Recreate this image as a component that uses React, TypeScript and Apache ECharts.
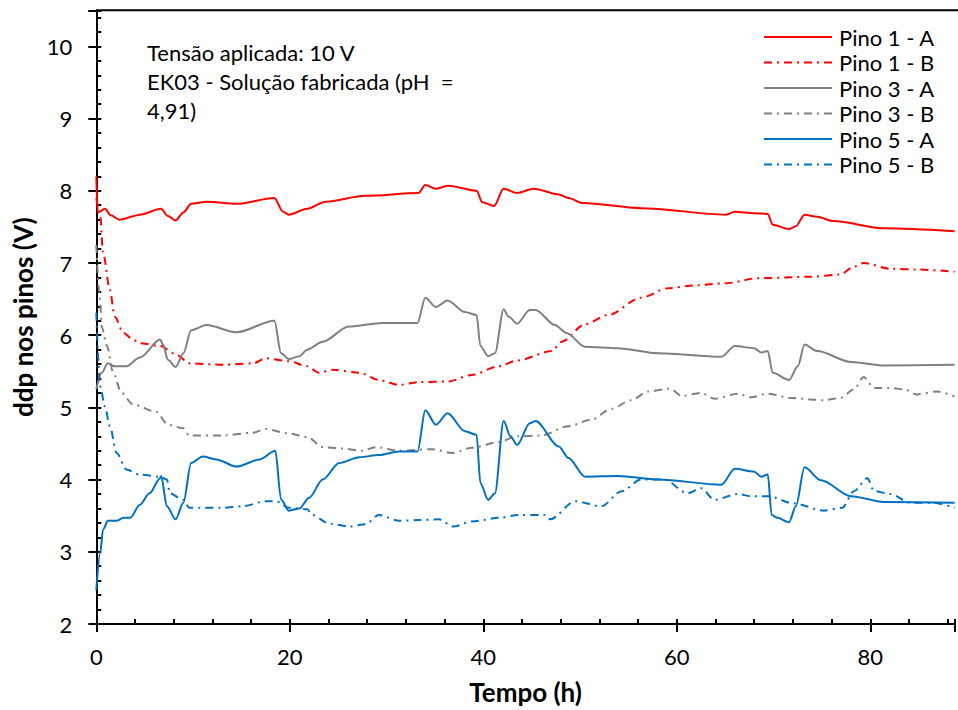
import React, { useEffect, useRef } from "react";
import * as echarts from "echarts";

const seriesNames = ["Pino 1 - A", "Pino 1 - B", "Pino 3 - A", "Pino 3 - B", "Pino 5 - A", "Pino 5 - B"];
const xTicks = [0, 20, 40, 60, 80];
const yTicks = [2, 3, 4, 5, 6, 7, 8, 9, 10];
const noteLines = ["Tensão aplicada: 10 V", "EK03 - Solução fabricada (pH  =", "4,91)"];

const pino1A: [number, number][] = [
  [0, 8.2], [0.15, 7.7], [0.9, 7.75], [1.5, 7.66], [2.4, 7.6], [4.5, 7.67], [6.7, 7.75], [7.4, 7.65], [8.2, 7.59],
  [9.0, 7.7], [9.8, 7.82], [11.4, 7.85], [14.5, 7.82], [18.4, 7.9], [19.3, 7.71], [19.9, 7.67], [21.8, 7.75],
  [23.7, 7.85], [27.8, 7.93], [33.3, 7.97], [34, 8.08], [35.1, 8.03], [36.4, 8.07], [39.3, 8.0], [39.9, 7.84],
  [41.1, 7.79], [42.1, 8.03], [43.5, 7.97], [45.2, 8.03], [47.8, 7.95], [48.8, 7.9], [50.3, 7.83], [56.3, 7.76],
  [65.1, 7.67], [66, 7.71], [68, 7.69], [69.4, 7.68], [69.9, 7.53], [71.6, 7.47], [72.3, 7.51], [73.2, 7.67],
  [74.5, 7.64], [76.2, 7.58], [81.4, 7.48], [88.7, 7.44],
];

const pino1B: [number, number][] = [
  [0, 7.9], [0.4, 7.65], [0.7, 7.14], [1.4, 6.63], [1.9, 6.26], [2.8, 6.03], [3.8, 5.94], [4.5, 5.89], [6.6, 5.85],
  [8.3, 5.73], [9.6, 5.61], [13.1, 5.59], [16.2, 5.61], [17.5, 5.68], [19.9, 5.64], [21.8, 5.57], [23, 5.48],
  [24.4, 5.52], [27.2, 5.48], [29.2, 5.38], [31.3, 5.31], [33.3, 5.35], [36.4, 5.36], [38.8, 5.45], [41.6, 5.57],
  [43.5, 5.65], [47.1, 5.78], [48.1, 5.91], [50.5, 6.15], [52.9, 6.28], [56.3, 6.52], [59.1, 6.65], [61.8, 6.69],
  [65.1, 6.72], [68.4, 6.79], [73.8, 6.81], [76.9, 6.84], [78.3, 6.95], [79.3, 7.0], [82.1, 6.92], [84.8, 6.91],
  [88.7, 6.88],
];

const pino3A: [number, number][] = [
  [0, 5.25], [0.55, 5.48], [1.2, 5.61], [1.9, 5.57], [3.1, 5.57], [4.5, 5.69], [6.6, 5.94], [6.9, 5.87], [7.4, 5.66],
  [8.2, 5.56], [9.0, 5.75], [9.8, 6.07], [11.4, 6.14], [14.5, 6.04], [18.4, 6.2], [19.1, 5.75], [19.9, 5.67],
  [21, 5.71], [21.8, 5.8], [23.4, 5.91], [26.1, 6.12], [29.6, 6.17], [33.2, 6.17], [34, 6.52], [35.1, 6.39],
  [36.3, 6.48], [38.1, 6.32], [39.3, 6.28], [39.7, 5.85], [40.5, 5.71], [41.2, 5.75], [42.1, 6.36], [42.6, 6.26],
  [43.5, 6.16], [44.8, 6.35], [45.4, 6.35], [47.4, 6.14], [48.6, 6.03], [50.5, 5.84], [53.9, 5.82], [58.1, 5.75],
  [64.6, 5.7], [66, 5.85], [68, 5.82], [68.7, 5.76], [69.4, 5.78], [69.9, 5.48], [71.6, 5.38], [72.5, 5.57],
  [73.2, 5.87], [74.5, 5.78], [78, 5.63], [81.4, 5.58], [88.7, 5.59],
];

const pino3B: [number, number][] = [
  [0, 7.25], [0.3, 6.6], [0.6, 6.1], [1.1, 5.85], [1.75, 5.48], [2.6, 5.2], [3.8, 5.04], [6.2, 4.94], [7.4, 4.76],
  [9.0, 4.71], [9.6, 4.61], [13.1, 4.61], [16.2, 4.65], [17.5, 4.7], [19.9, 4.64], [21.8, 4.59], [23.4, 4.45],
  [25.4, 4.43], [27.5, 4.4], [28.9, 4.45], [31.3, 4.4], [34.7, 4.42], [36.8, 4.37], [38.8, 4.44], [41.6, 4.52],
  [43.5, 4.6], [46, 4.61], [48.8, 4.74], [51.2, 4.83], [53.2, 4.98], [55.3, 5.1], [57, 5.22], [59.3, 5.26],
  [60.5, 5.16], [62.5, 5.2], [63.9, 5.12], [66.3, 5.19], [67.7, 5.14], [69.4, 5.19], [71.8, 5.13], [75.2, 5.1],
  [76.9, 5.13], [78.3, 5.25], [79.3, 5.42], [80.4, 5.27], [82.1, 5.27], [83.5, 5.25], [84.8, 5.18], [86.9, 5.22],
  [88.7, 5.15],
];

const pino5A: [number, number][] = [
  [0, 2.47], [0.4, 2.98], [0.7, 3.31], [1.2, 3.43], [2.1, 3.43], [2.8, 3.47], [3.5, 3.47], [4.5, 3.65], [5.5, 3.81],
  [6.6, 4.02], [6.7, 4.05], [7.3, 3.63], [8.2, 3.45], [9.0, 3.68], [9.8, 4.23], [11, 4.32], [12.4, 4.28],
  [14.5, 4.18], [16.9, 4.28], [18.5, 4.4], [19.1, 3.72], [19.9, 3.57], [21, 3.6], [22, 3.75], [23.4, 4.0],
  [25.1, 4.23], [27.2, 4.31], [29.2, 4.34], [31.3, 4.39], [33.2, 4.39], [34, 4.96], [35.1, 4.76], [36.3, 4.92],
  [38.1, 4.67], [39.3, 4.62], [39.7, 3.95], [40.5, 3.72], [41.2, 3.81], [42.1, 4.81], [42.8, 4.6], [43.5, 4.48],
  [44.8, 4.78], [45.4, 4.81], [47.8, 4.46], [48.8, 4.3], [50.5, 4.04], [53.9, 4.05], [58.1, 4.0], [64.6, 3.93],
  [66, 4.15], [68, 4.11], [68.7, 4.04], [69.4, 4.07], [69.8, 3.51], [70.4, 3.47], [71.6, 3.41], [72.3, 3.63],
  [73.2, 4.17], [74.9, 3.99], [78, 3.77], [81.4, 3.69], [88.7, 3.68],
];

const pino5B: [number, number][] = [
  [0, 6.31], [0.4, 5.29], [0.9, 5.01], [1.4, 4.74], [2.1, 4.37], [3.1, 4.14], [4.5, 4.07], [6.6, 4.04], [7.3, 4.0],
  [7.6, 3.81], [9.0, 3.72], [9.6, 3.61], [13.1, 3.61], [15.1, 3.63], [17.5, 3.7], [18.6, 3.7], [19.9, 3.61],
  [21.8, 3.59], [22.3, 3.51], [24.1, 3.39], [26.1, 3.35], [27.8, 3.38], [29.2, 3.51], [31.3, 3.43], [33.3, 3.44],
  [35.4, 3.45], [36.9, 3.35], [38.8, 3.42], [41.6, 3.47], [43.6, 3.51], [46.4, 3.51], [46.9, 3.45], [49.5, 3.7],
  [52.2, 3.63], [54.3, 3.84], [56.3, 4.0], [58.7, 4.0], [61.1, 3.81], [62.5, 3.88], [63.9, 3.72], [66.3, 3.8],
  [67.7, 3.77], [69.4, 3.77], [72.1, 3.67], [75.2, 3.57], [77.1, 3.61], [78.3, 3.84], [79.7, 4.02], [80.4, 3.84],
  [82.1, 3.8], [84.1, 3.68], [86.5, 3.68], [88.7, 3.61],
];

const seriesData = [pino1A, pino1B, pino3A, pino3B, pino5A, pino5B];
const seriesColors = ["#FF0000", "#FF0000", "#808080", "#808080", "#0070C0", "#0070C0"];
const dashDot = [8, 5, 2, 5];

const FONT = "Lato, 'Open Sans', sans-serif";

export default function App() {
  const ref = useRef<HTMLDivElement>(null);
  useEffect(() => {
    if (!ref.current) return;
    const chart = echarts.init(ref.current, undefined, { renderer: "svg" });
    const xMin = 0, xMax = 88.75, yMin = 2, yMax = 10.5;
    chart.setOption({
      animation: false,
      backgroundColor: "#ffffff",
      textStyle: { fontFamily: FONT },
      grid: { left: 96.3, right: 0, top: 10.3, bottom: 85.7, containLabel: false },
      legend: {
        orient: "vertical",
        left: 763,
        top: 26,
        padding: 0,
        itemWidth: 68,
        itemHeight: 14,
        itemGap: 3.5,
        data: seriesNames,
        itemStyle: { opacity: 0, borderWidth: 0 },
        textStyle: { fontFamily: FONT, fontSize: 22, color: "#000", padding: [0, 0, 0, 2] },
      },
      xAxis: [
        {
          type: "value",
          min: xMin,
          max: xMax,
          interval: 20,
          position: "bottom",
          name: "Tempo (h)",
          nameLocation: "middle",
          nameGap: 55,
          nameTextStyle: { fontFamily: FONT, fontSize: 26, fontWeight: "bold", color: "#000" },
          axisLine: { show: true, onZero: false, lineStyle: { color: "#000", width: 2 } },
          axisTick: { show: true, inside: false, length: 8, lineStyle: { color: "#000", width: 2 } },
          axisLabel: {
            margin: 21,
            fontFamily: FONT,
            fontSize: 22,
            color: "#000",
            formatter: (v: number) => (xTicks.includes(v) ? String(v) : ""),
          },
          splitLine: { show: false },
        },
        {
          type: "value",
          min: xMin,
          max: xMax,
          interval: 20,
          position: "bottom",
          axisLine: { show: false, onZero: false },
          axisTick: { show: true, inside: true, length: 5, lineStyle: { color: "#000", width: 2 } },
          minorTick: { show: true, splitNumber: 5, length: 5, lineStyle: { color: "#000", width: 2 } },
          axisLabel: { show: false },
          splitLine: { show: false },
        },
      ],
      yAxis: [
        {
          type: "value",
          min: yMin,
          max: yMax,
          interval: 1,
          position: "left",
          name: "ddp nos pinos (V)",
          nameLocation: "middle",
          nameGap: 60,
          nameTextStyle: { fontFamily: FONT, fontSize: 26, fontWeight: "bold", color: "#000" },
          axisLine: { show: true, onZero: false, lineStyle: { color: "#000", width: 2 } },
          axisTick: { show: true, inside: false, length: 8, lineStyle: { color: "#000", width: 2 } },
          axisLabel: {
            margin: 24,
            fontFamily: FONT,
            fontSize: 22,
            color: "#000",
            formatter: (v: number) => (yTicks.includes(v) ? String(v) : ""),
          },
          splitLine: { show: false },
        },
        {
          type: "value",
          min: yMin,
          max: yMax,
          interval: 1,
          position: "left",
          axisLine: { show: false, onZero: false },
          axisTick: { show: true, inside: true, length: 5, lineStyle: { color: "#000", width: 2 } },
          minorTick: { show: true, splitNumber: 5, length: 5, lineStyle: { color: "#000", width: 2 } },
          axisLabel: { show: false },
          splitLine: { show: false },
        },
      ],
      graphic: [
        {
          type: "line",
          shape: { x1: 96.3, y1: 10.3, x2: 958, y2: 10.3 },
          style: { stroke: "#000", lineWidth: 2 },
          silent: true,
        },
        {
          type: "text",
          left: 147,
          top: 38,
          style: {
            text: noteLines.join("\n"),
            fontFamily: FONT,
            fontSize: 22,
            lineHeight: 29,
            fill: "#000",
          },
        },
      ],
      series: seriesNames.map((name, i) => ({
        name,
        type: "line",
        xAxisIndex: 0,
        yAxisIndex: 0,
        data: seriesData[i],
        symbol: "none",
        showSymbol: false,
        smooth: 0.3,
        smoothMonotone: "x",
        clip: true,
        lineStyle: {
          color: seriesColors[i],
          width: 2,
          type: i % 2 === 1 ? dashDot : "solid",
        },
        itemStyle: { color: seriesColors[i] },
      })),
    });
    return () => chart.dispose();
  }, []);
  return (
    <div
      ref={ref}
      style={{ position: "absolute", left: 0, top: 0, width: 958, height: 710, background: "#fff" }}
    />
  );
}
